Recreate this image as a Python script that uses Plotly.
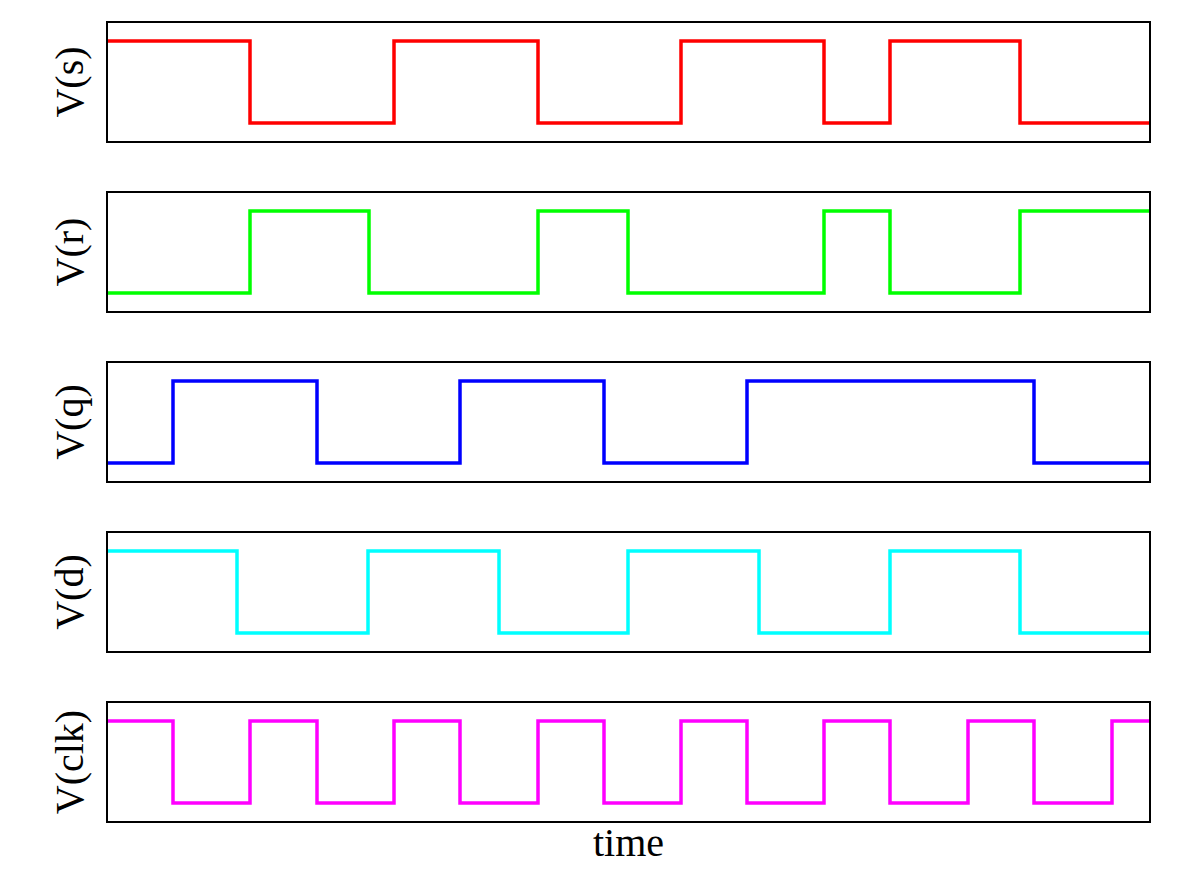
import plotly.graph_objects as go
from plotly.subplots import make_subplots

t_end = 1041
s_start, s_edges = 1, [142, 286, 430, 573, 716, 782, 912]
r_start, r_edges = 0, [142, 261, 430, 520, 716, 782, 912]
q_start, q_edges = 0, [65, 209, 352, 496, 639, 926]
d_start, d_edges = 1, [129, 260, 391, 520, 651, 782, 912]
clk_start, clk_edges = 1, [65, 142, 209, 286, 352, 430, 496, 573, 639, 716, 782, 860, 926, 1004]

signals = [("V(s)", s_start, s_edges, "#ff0000"),
           ("V(r)", r_start, r_edges, "#00ff00"),
           ("V(q)", q_start, q_edges, "#0000ff"),
           ("V(d)", d_start, d_edges, "#00ffff"),
           ("V(clk)", clk_start, clk_edges, "#ff00ff")]

fig = make_subplots(rows=5, cols=1, shared_xaxes=True, vertical_spacing=52/798)
font = dict(family="Liberation Serif", size=40, color="black")
for i, (name, start, edges, color) in enumerate(signals, 1):
    xs = [0] + edges + [t_end]
    ys = []
    v = start
    for _ in range(len(edges) + 1):
        ys.append(v); v = 1 - v
    ys.append(ys[-1])
    fig.add_trace(go.Scatter(x=xs, y=ys, mode="lines", line=dict(color=color, width=3.5, shape="hv"),
                             showlegend=False), row=i, col=1)
    fig.update_yaxes(range=[-0.22, 1.22], showticklabels=False, showgrid=False, zeroline=False,
                     showline=True, mirror=True, linecolor="black", linewidth=2, ticks="",
                     title=dict(text=name, font=font, standoff=10), row=i, col=1)
    fig.update_xaxes(range=[0, t_end], showticklabels=False, showgrid=False, zeroline=False,
                     showline=True, mirror=True, linecolor="black", linewidth=2, ticks="", row=i, col=1)
fig.update_xaxes(title=dict(text="time", font=font, standoff=6), row=5, col=1)
fig.update_layout(width=1179, height=888, margin=dict(l=100, r=38, t=15, b=75),
                  plot_bgcolor="white", paper_bgcolor="white")
fig.write_html("out.html")
